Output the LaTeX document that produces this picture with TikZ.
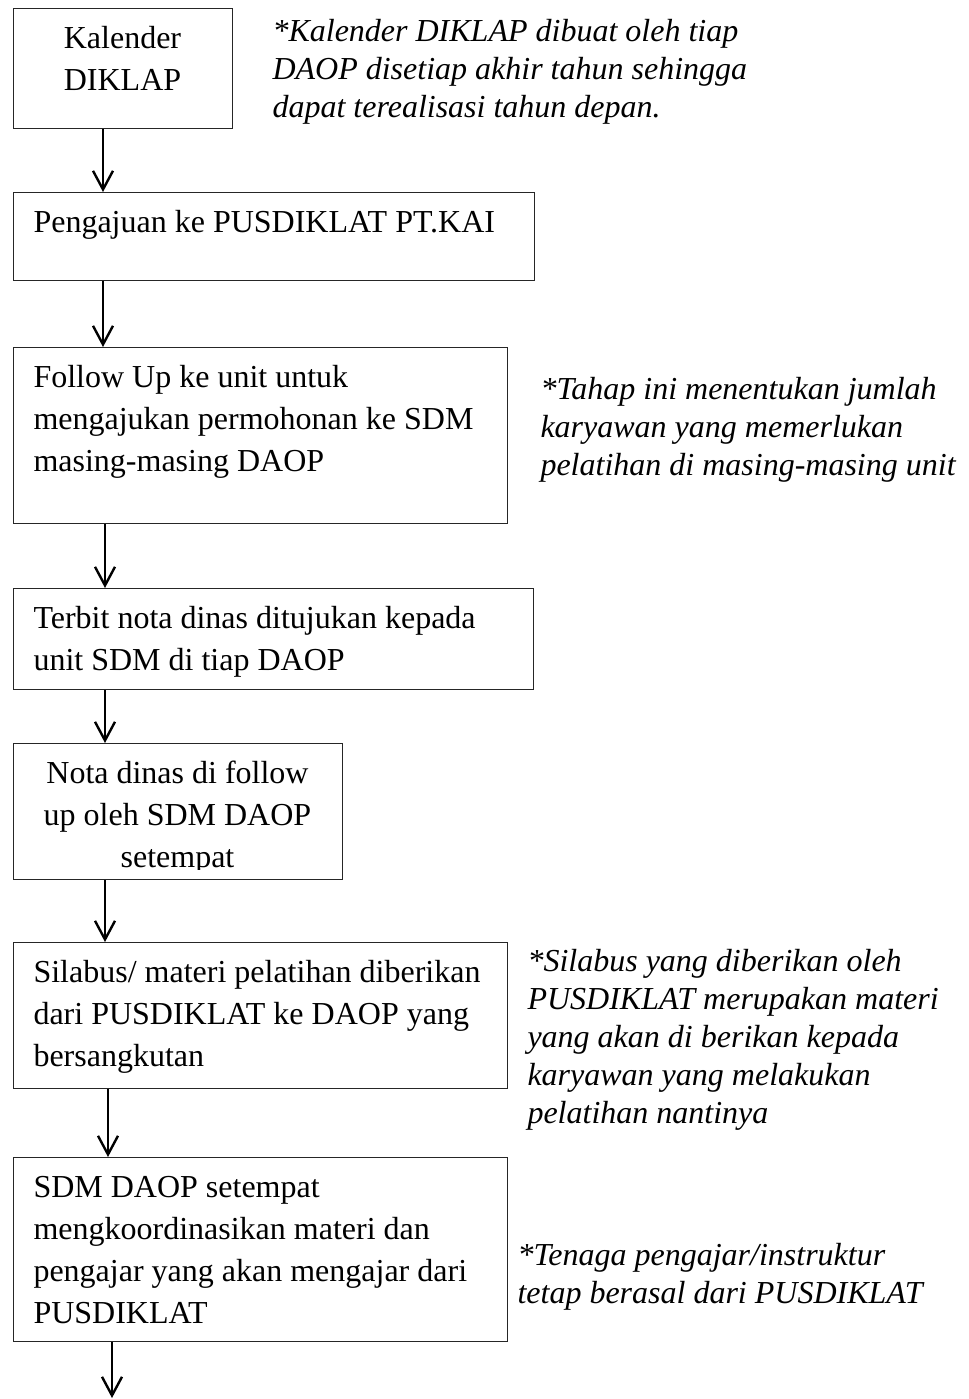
\documentclass[tikz,border=0pt]{standalone}
\usepackage{fontspec}
\setmainfont{Liberation Serif}
\usetikzlibrary{arrows.meta}
\begin{document}
\begin{tikzpicture}[x=0.375pt,y=-0.375pt,
  box/.style={draw=black!85, line width=0.55pt, inner sep=0pt, anchor=north west},
  boxtxt/.style={inner sep=0pt, anchor=north west, align=left, font=\fontsize{12}{15.75}\selectfont},
  ctrtxt/.style={inner sep=0pt, anchor=north, align=center, font=\fontsize{12}{15.75}\selectfont},
  notetxt/.style={inner sep=0pt, anchor=north west, align=left, font=\fontsize{12}{14.25}\selectfont\itshape},
  arr/.style={line width=0.9pt, -{Straight Barb[length=7pt,width=7.5pt]}}]
\useasboundingbox (0,0) rectangle (969,1399);
% boxes
\node[box, minimum width=219*0.375pt, minimum height=120*0.375pt] (b1) at (13,8) {};
\node[box, minimum width=521*0.375pt, minimum height=88*0.375pt] (b2) at (13,192) {};
\node[box, minimum width=494*0.375pt, minimum height=176*0.375pt] (b3) at (13,347) {};
\node[box, minimum width=520*0.375pt, minimum height=101*0.375pt] (b4) at (13,588) {};
\node[box, minimum width=329*0.375pt, minimum height=136*0.375pt] (b5) at (13,743) {};
\node[box, minimum width=494*0.375pt, minimum height=146*0.375pt] (b6) at (13,942) {};
\node[box, minimum width=494*0.375pt, minimum height=184*0.375pt] (b7) at (13,1157) {};
% box texts
\node[ctrtxt] (t1) at (122.5,18.6) {\strut Kalender\\DIKLAP};
\node[boxtxt] (t2) at (33,202.6) {\strut Pengajuan ke PUSDIKLAT PT.KAI};
\node[boxtxt] (t3) at (33,357.6) {\strut Follow Up ke unit untuk\\mengajukan permohonan ke SDM\\masing-masing DAOP};
\node[boxtxt] (t4) at (33,598.6) {\strut Terbit nota dinas ditujukan kepada\\unit SDM di tiap DAOP};
\begin{scope}
\clip (13,743) rectangle (342,869);
\node[ctrtxt] (t5) at (177.5,753.6) {\strut Nota dinas di follow\\up oleh SDM DAOP\\setempat};
\end{scope}
\node[boxtxt] (t6) at (33,952.6) {\strut Silabus/ materi pelatihan diberikan\\dari PUSDIKLAT ke DAOP yang\\bersangkutan};
\node[boxtxt] (t7) at (33,1167.6) {\strut SDM DAOP setempat\\mengkoordinasikan materi dan\\pengajar yang akan mengajar dari\\PUSDIKLAT};
% notes
\node[notetxt] (n1) at (272,14.3) {\strut *Kalender DIKLAP dibuat oleh tiap\\DAOP disetiap akhir tahun sehingga\\dapat terealisasi tahun depan.};
\node[notetxt] (n2) at (540,372.3) {\strut *Tahap ini menentukan jumlah\\karyawan yang memerlukan\\pelatihan di masing-masing unit};
\node[notetxt] (n3) at (527,944.8) {\strut *Silabus yang diberikan oleh\\PUSDIKLAT merupakan materi\\yang akan di berikan kepada\\karyawan yang melakukan\\pelatihan nantinya};
\node[notetxt] (n4) at (517,1238.8) {\strut *Tenaga pengajar/instruktur\\tetap berasal dari PUSDIKLAT};
% arrow columns
\coordinate (xa) at (103,0);
\coordinate (xb) at (105,0);
\coordinate (xc) at (108,0);
\coordinate (xd) at (112,0);
\coordinate (end) at (112,1398);
\draw[arr] (xa |- b1.south) -- (xa |- b2.north);
\draw[arr] (xa |- b2.south) -- (xa |- b3.north);
\draw[arr] (xb |- b3.south) -- (xb |- b4.north);
\draw[arr] (xb |- b4.south) -- (xb |- b5.north);
\draw[arr] (xb |- b5.south) -- (xb |- b6.north);
\draw[arr] (xc |- b6.south) -- (xc |- b7.north);
\draw[arr] (xd |- b7.south) -- (end);
\end{tikzpicture}
\end{document}
